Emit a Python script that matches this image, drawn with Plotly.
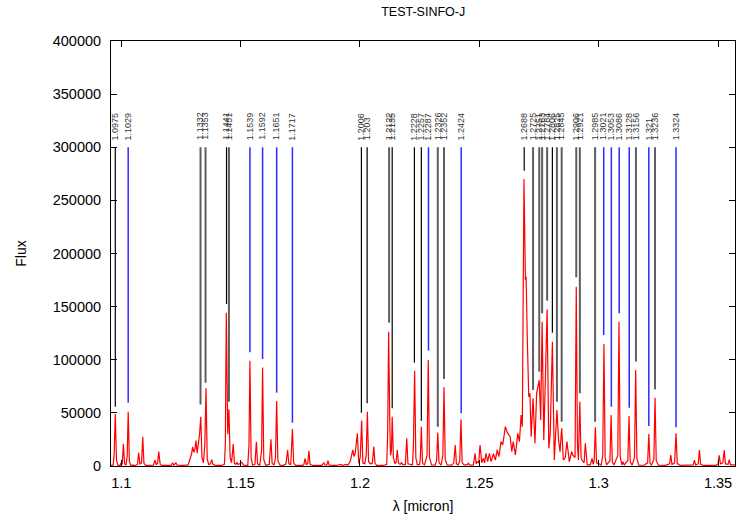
import plotly.graph_objects as go

# ---------------- data ----------------
# spectrum: (wavelength [micron], flux)
spectrum_points = [
    (1.0957, 500), (1.0966, 1000), (1.0970, 10000), (1.0975, 48900), (1.0980, 5000),
    (1.0986, 800), (1.0995, 500), (1.1000, 3000), (1.1004, 1500), (1.1009, 21000),
    (1.1014, 2000), (1.1020, 800), (1.1025, 10000), (1.1029, 51100), (1.1034, 4000),
    (1.1040, 600), (1.1050, 800), (1.1060, 500), (1.1068, 1500), (1.1073, 12500),
    (1.1078, 2000), (1.1085, 3000), (1.1090, 27600), (1.1095, 2500), (1.1102, 600),
    (1.1120, 500), (1.1135, 800), (1.1141, 5600), (1.1146, 1500), (1.1152, 2500),
    (1.1157, 13500), (1.1163, 1500), (1.1170, 500), (1.1200, 500), (1.1210, 700),
    (1.1215, 3000), (1.1220, 800), (1.1229, 3000), (1.1234, 800), (1.1260, 600),
    (1.1280, 1000), (1.1290, 8000), (1.1295, 12000), (1.1299, 18000), (1.1304, 13000),
    (1.1309, 16000), (1.1313, 23900), (1.1318, 12000), (1.1323, 20000), (1.1328, 30000),
    (1.1333, 46400), (1.1338, 8000), (1.1344, 3000), (1.1350, 20000), (1.1355, 73100),
    (1.1360, 7000), (1.1366, 1500), (1.1374, 2000), (1.1379, 6000), (1.1384, 1500),
    (1.1395, 500), (1.1420, 500), (1.1432, 1500), (1.1436, 20000), (1.1440, 144300),
    (1.1444, 50000), (1.1446, 30000), (1.1451, 53300), (1.1456, 8000), (1.1462, 3000),
    (1.1469, 20700), (1.1474, 2500), (1.1480, 1500), (1.1485, 3500), (1.1490, 1200),
    (1.1505, 3500), (1.1512, 800), (1.1530, 600), (1.1535, 20000), (1.1539, 99100),
    (1.1544, 8000), (1.1550, 700), (1.1560, 1500), (1.1566, 22900), (1.1571, 2000),
    (1.1580, 700), (1.1588, 15000), (1.1592, 92600), (1.1597, 6000), (1.1605, 700),
    (1.1620, 1500), (1.1627, 25100), (1.1632, 2500), (1.1640, 800), (1.1646, 8000),
    (1.1651, 61200), (1.1656, 5000), (1.1665, 700), (1.1680, 600), (1.1690, 2000),
    (1.1697, 15100), (1.1702, 2000), (1.1710, 1500), (1.1717, 34800), (1.1722, 3000),
    (1.1730, 600), (1.1760, 500), (1.1765, 1500), (1.1770, 7200), (1.1775, 1500),
    (1.1781, 2000), (1.1786, 14400), (1.1791, 1500), (1.1800, 500), (1.1840, 500),
    (1.1849, 3000), (1.1854, 800), (1.1861, 1000), (1.1866, 5000), (1.1871, 800),
    (1.1900, 500), (1.1920, 1500), (1.1926, 500), (1.1940, 1500), (1.1950, 800),
    (1.1960, 5000), (1.1966, 10000), (1.1970, 15100), (1.1975, 9000), (1.1980, 12000),
    (1.1989, 30700), (1.1995, 2500), (1.2001, 8000), (1.2007, 42700), (1.2012, 3000),
    (1.2020, 2000), (1.2026, 10000), (1.2031, 51100), (1.2036, 4000), (1.2045, 2000),
    (1.2052, 3000), (1.2058, 18200), (1.2063, 2500), (1.2070, 600), (1.2100, 500),
    (1.2112, 1500), (1.2116, 30000), (1.2120, 126400), (1.2125, 40000), (1.2128, 10000),
    (1.2132, 15000), (1.2135, 46400), (1.2140, 8000), (1.2146, 2500), (1.2151, 3000),
    (1.2156, 15100), (1.2161, 3000), (1.2168, 1500), (1.2174, 3000), (1.2180, 1000),
    (1.2190, 1500), (1.2196, 26000), (1.2201, 2000), (1.2210, 1500), (1.2220, 1000),
    (1.2224, 20000), (1.2229, 89700), (1.2234, 8000), (1.2240, 1200), (1.2250, 1500),
    (1.2253, 8000), (1.2257, 37000), (1.2262, 3000), (1.2270, 800), (1.2281, 10000),
    (1.2286, 99800), (1.2291, 8000), (1.2300, 1000), (1.2315, 800), (1.2321, 5000),
    (1.2326, 31400), (1.2331, 3000), (1.2340, 800), (1.2347, 10000), (1.2352, 74000),
    (1.2357, 6000), (1.2365, 1000), (1.2385, 800), (1.2393, 3000), (1.2399, 19800),
    (1.2404, 2000), (1.2412, 1000), (1.2418, 5000), (1.2423, 43900), (1.2428, 3000),
    (1.2436, 1000), (1.2449, 1000), (1.2454, 2500), (1.2460, 800), (1.2475, 1000),
    (1.2482, 11900), (1.2487, 2000), (1.2490, 4000), (1.2497, 3000), (1.2503, 19800),
    (1.2510, 3000), (1.2517, 7200), (1.2522, 3000), (1.2528, 11900), (1.2535, 4000),
    (1.2542, 11900), (1.2549, 4000), (1.2559, 11500), (1.2567, 5600), (1.2575, 15100),
    (1.2582, 8800), (1.2591, 23000), (1.2598, 19800), (1.2609, 37000), (1.2617, 31400),
    (1.2629, 27600), (1.2636, 13500), (1.2642, 22900), (1.2651, 10400), (1.2661, 30700),
    (1.2668, 22900), (1.2675, 48000), (1.2680, 37000), (1.2687, 270000), (1.2693, 175000),
    (1.2696, 178100), (1.2701, 118600), (1.2707, 65200), (1.2712, 68400), (1.2717, 27600),
    (1.2725, 63700), (1.2733, 21300), (1.2740, 68400), (1.2747, 76200), (1.2751, 80900),
    (1.2757, 43300), (1.2763, 135800), (1.2770, 24500), (1.2775, 62100), (1.2784, 147400),
    (1.2791, 16600), (1.2797, 30700), (1.2806, 117000), (1.2814, 5600), (1.2825, 52700),
    (1.2832, 24500), (1.2838, 13500), (1.2845, 35500), (1.2852, 5600), (1.2860, 8000),
    (1.2867, 22900), (1.2877, 4000), (1.2887, 13500), (1.2891, 10400), (1.2901, 8000),
    (1.2906, 168700), (1.2911, 20000), (1.2915, 5600), (1.2921, 60500), (1.2926, 8000),
    (1.2930, 5600), (1.2939, 3000), (1.2944, 21300), (1.2949, 3000), (1.2952, 1000),
    (1.2965, 1000), (1.2972, 7200), (1.2977, 1500), (1.2981, 5000), (1.2986, 36400),
    (1.2991, 3000), (1.2998, 2500), (1.3010, 800), (1.3017, 10000), (1.3022, 114800),
    (1.3027, 8000), (1.3033, 1000), (1.3047, 5000), (1.3052, 48000), (1.3057, 4000),
    (1.3064, 1000), (1.3080, 10000), (1.3085, 135800), (1.3090, 9000), (1.3097, 1000),
    (1.3102, 4000), (1.3107, 1000), (1.3122, 5000), (1.3127, 47000), (1.3132, 4000),
    (1.3140, 800), (1.3150, 8000), (1.3155, 90300), (1.3160, 7000), (1.3168, 800),
    (1.3190, 700), (1.3205, 3000), (1.3210, 30100), (1.3215, 2500), (1.3221, 1000),
    (1.3231, 6000), (1.3236, 64300), (1.3241, 5000), (1.3250, 800), (1.3280, 600),
    (1.3297, 2000), (1.3302, 10400), (1.3307, 1500), (1.3318, 3000), (1.3324, 30700),
    (1.3329, 2500), (1.3340, 600), (1.3380, 500), (1.3396, 1000), (1.3401, 5600),
    (1.3406, 1000), (1.3417, 2000), (1.3422, 15100), (1.3427, 1500), (1.3440, 500),
    (1.3490, 500), (1.3500, 2000), (1.3505, 10000), (1.3510, 2000), (1.3520, 3000),
    (1.3526, 15000), (1.3531, 2000), (1.3542, 1500), (1.3547, 6000), (1.3552, 1000),
    (1.3571, 1000),
]
spec_wl = [p[0] for p in spectrum_points]
spec_flux = [p[1] for p in spectrum_points]

# identified lines
line_wl = [1.0975, 1.1029, 1.1332, 1.1353, 1.1441, 1.1451, 1.1539, 1.1592, 1.1651, 1.1717,
           1.2006, 1.2030, 1.2122, 1.2135, 1.2228, 1.2257, 1.2287, 1.2326, 1.2352, 1.2424,
           1.2688, 1.2725, 1.2751, 1.2763, 1.2784, 1.2806, 1.2825, 1.2845, 1.2906, 1.2921,
           1.2985, 1.3021, 1.3053, 1.3086, 1.3128, 1.3156, 1.3210, 1.3236, 1.3324]
line_label = ["1.0975", "1.1029", "1.1332", "1.1353", "1.1441", "1.1451", "1.1539", "1.1592",
              "1.1651", "1.1717", "1.2006", "1.203", "1.2122", "1.2135", "1.2228", "1.2257",
              "1.2287", "1.2326", "1.2352", "1.2424", "1.2688", "1.2725", "1.2751", "1.2763",
              "1.2784", "1.2806", "1.2825", "1.2845", "1.2906", "1.2921", "1.2985", "1.3021",
              "1.3053", "1.3086", "1.3128", "1.3156", "1.321", "1.3236", "1.3324"]
line_base = [55800, 59600, 58000, 78400, 152500, 60500, 107000, 100700, 69000, 40800,
             50200, 59000, 134900, 54300, 97300, 42700, 108600, 37000, 81900, 49600,
             278000, 71500, 88800, 143700, 155600, 125500, 60500, 41700, 177600, 68400,
             41700, 123300, 55800, 143700, 54900, 98400, 37600, 72100, 36400]
line_kind = ["k", "b", "g", "g", "k", "g", "b", "b", "b", "b",
             "k", "k", "g", "k", "k", "k", "b", "g", "g", "b",
             "k", "g", "g", "g", "g", "k", "g", "g", "g", "g",
             "g", "b", "b", "b", "b", "g", "b", "g", "b"]
line_top = 300000

title_text = "TEST-SINFO-J"
x_title = "λ [micron]"
y_title = "Flux"

# ---------------- figure ----------------
styles = {"k": ("#000000", 1.2), "g": ("#5e5e5e", 2.0), "b": ("#2a2aff", 1.5)}
FONT = "Liberation Sans, Arial"

fig = go.Figure()
for kind, (col, w) in styles.items():
    xs, ys = [], []
    for wl, base, kd in zip(line_wl, line_base, line_kind):
        if kd == kind:
            xs += [wl, wl, None]
            ys += [base, line_top, None]
    fig.add_trace(go.Scatter(x=xs, y=ys, mode="lines", line=dict(color=col, width=w),
                             hoverinfo="skip", showlegend=False))

fig.add_trace(go.Scatter(x=spec_wl, y=spec_flux, mode="lines",
                         line=dict(color="#ff0000", width=1.2), showlegend=False))

for wl, lab in zip(line_wl, line_label):
    fig.add_annotation(x=wl, y=line_top, text=lab, textangle=-90, showarrow=False,
                       xanchor="center", yanchor="bottom", yshift=5,
                       font=dict(family=FONT, size=9, color="#333333"))

axis_common = dict(showgrid=False, zeroline=False, ticks="inside", ticklen=6,
                   tickcolor="#000000", showline=True, linecolor="#000000", linewidth=1,
                   mirror="ticks",
                   tickfont=dict(family=FONT, size=14.5, color="#000000"))

fig.update_layout(
    width=736, height=517,
    margin=dict(l=111, r=1, t=41, b=51),
    paper_bgcolor="white", plot_bgcolor="white",
    title=dict(text=title_text, x=0.575, xanchor="center", y=0.977, yanchor="middle",
               font=dict(family=FONT, size=12.5, color="#000000")),
    xaxis=dict(range=[1.0957, 1.3571], tickmode="linear", tick0=1.1, dtick=0.05,
               ticklabelstandoff=4,
               title=dict(text=x_title, standoff=10,
                          font=dict(family=FONT, size=14, color="#000000")),
               **axis_common),
    yaxis=dict(range=[0, 400000], tickmode="linear", tick0=0, dtick=50000, tickformat="d",
               ticklabelstandoff=6,
               title=dict(text=y_title, standoff=22,
                          font=dict(family=FONT, size=14, color="#000000")),
               **axis_common),
)

fig.write_html("out.html")
